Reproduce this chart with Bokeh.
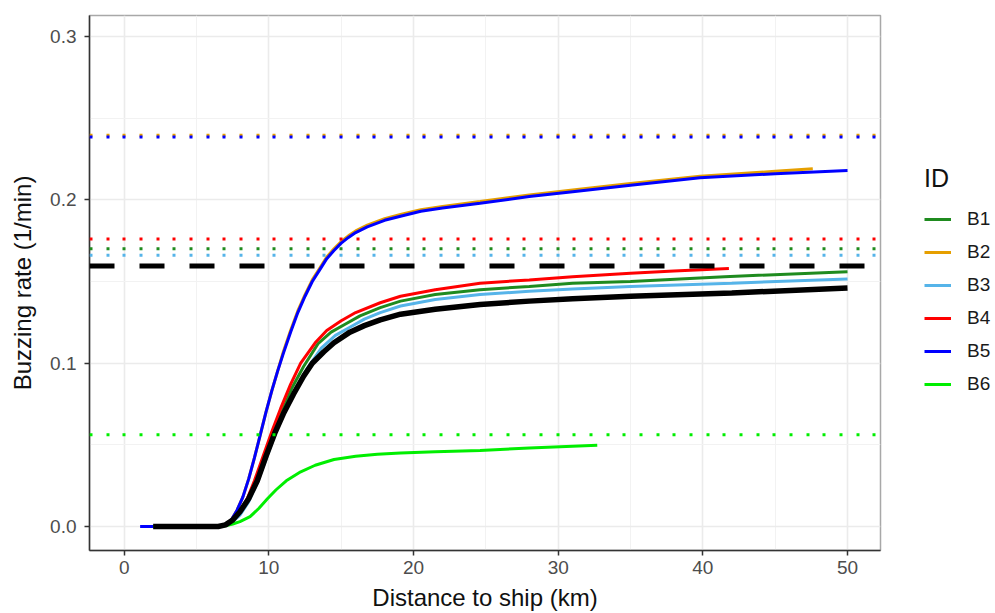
from bokeh.plotting import figure
from bokeh.layouts import row
from bokeh.models import Range1d, FixedTicker, PrintfTickFormatter, Span, Legend, LegendItem
from bokeh.embed import file_html
from bokeh.resources import INLINE

# ---------------- data ----------------
ids = ["B1", "B2", "B3", "B4", "B5", "B6"]
colors = {"B1": "#1F8B1F", "B2": "#E69F00", "B3": "#56B4E9",
          "B4": "#FF0000", "B5": "#0000FF", "B6": "#00EE00"}

b1_x = [2, 6.5, 7.0, 7.5, 8.0, 8.5, 9.1, 9.7, 10.3, 10.9, 11.6, 12.4, 13.4, 14.3, 15.3, 16.3, 17.7, 19.1, 21.5, 24.6, 28, 31, 35, 41.5, 50]
b1_y = [0, 0, 0.001, 0.003, 0.008, 0.016, 0.027, 0.042, 0.057, 0.070, 0.085, 0.098, 0.112, 0.119, 0.124, 0.129, 0.134, 0.138, 0.142, 0.145, 0.147, 0.149, 0.150, 0.153, 0.156]

b2_x = [2, 4, 6.5, 7.0, 7.4, 7.8, 8.2, 8.6, 9.0, 9.4, 9.8, 10.2, 10.6, 11.0, 11.5, 12.0, 12.5, 13.0, 13.5, 14.0, 14.5, 15.0, 15.5, 16.0, 16.8, 18.0, 19.1, 20.5, 22, 24.6, 28, 31, 35, 39.8, 45, 47.6]
b2_y = [0, 0, 0, 0.001, 0.004, 0.010, 0.018, 0.029, 0.042, 0.056, 0.070, 0.083, 0.095, 0.107, 0.120, 0.132, 0.142, 0.151, 0.158, 0.165, 0.170, 0.1745, 0.178, 0.181, 0.1845, 0.1885, 0.191, 0.194, 0.196, 0.199, 0.203, 0.206, 0.210, 0.2145, 0.2175, 0.219]

b3_x = [2, 6.5, 7.0, 7.5, 8.0, 8.6, 9.2, 9.8, 10.4, 11.0, 11.8, 12.6, 13.6, 14.6, 15.6, 16.6, 17.7, 19.1, 21.5, 24.6, 28, 31, 35, 42, 50]
b3_y = [0, 0, 0.001, 0.003, 0.007, 0.015, 0.027, 0.041, 0.056, 0.069, 0.083, 0.096, 0.109, 0.117, 0.122, 0.127, 0.131, 0.135, 0.139, 0.142, 0.144, 0.1455, 0.147, 0.149, 0.1515]

b4_x = [2, 6.5, 7.0, 7.5, 8.0, 8.5, 9.0, 9.6, 10.2, 10.8, 11.5, 12.2, 13.2, 14.0, 15.0, 16.0, 17.7, 19.1, 21.5, 24.6, 28, 31, 35, 38, 41.8]
b4_y = [0, 0, 0.001, 0.004, 0.009, 0.017, 0.028, 0.043, 0.058, 0.072, 0.087, 0.100, 0.1125, 0.120, 0.126, 0.131, 0.137, 0.141, 0.145, 0.149, 0.151, 0.153, 0.155, 0.1565, 0.158]

b5_x = [1.1, 4, 6.5, 7.0, 7.4, 7.8, 8.2, 8.6, 9.0, 9.4, 9.8, 10.2, 10.6, 11.0, 11.5, 12.0, 12.5, 13.0, 13.5, 14.0, 14.5, 15.0, 15.5, 16.0, 16.8, 18.0, 19.1, 20.5, 22, 24.6, 28, 31, 35, 39.8, 45, 50]
b5_y = [0, 0, 0, 0.001, 0.004, 0.010, 0.018, 0.029, 0.042, 0.056, 0.070, 0.083, 0.095, 0.106, 0.119, 0.131, 0.141, 0.150, 0.157, 0.164, 0.169, 0.1735, 0.177, 0.180, 0.1835, 0.1875, 0.190, 0.193, 0.195, 0.198, 0.202, 0.205, 0.209, 0.2135, 0.216, 0.218]

b6_x = [2, 6.5, 7.0, 7.5, 8.0, 8.7, 9.3, 9.9, 10.5, 11.2, 12.2, 13.2, 14.5, 16.0, 17.5, 19.1, 21.5, 24.6, 28, 32.7]
b6_y = [0, 0, 0.0005, 0.0015, 0.003, 0.006, 0.011, 0.017, 0.0225, 0.028, 0.0335, 0.0375, 0.041, 0.043, 0.0443, 0.045, 0.0457, 0.0466, 0.048, 0.0497]

pop_x = [2, 6.5, 7.0, 7.5, 8.0, 8.6, 9.2, 9.8, 10.4, 11.0, 11.7, 12.4, 13.0, 13.8, 14.5, 15.6, 16.6, 17.7, 19.1, 21.5, 24.6, 28, 31, 35, 42, 50]
pop_y = [0, 0, 0.001, 0.004, 0.009, 0.017, 0.028, 0.043, 0.057, 0.069, 0.081, 0.092, 0.100, 0.107, 0.1125, 0.119, 0.123, 0.1265, 0.130, 0.133, 0.136, 0.138, 0.1395, 0.141, 0.143, 0.146]

# asymptotic (max) rates per individual, and population value
asym = {"B1": 0.1701, "B2": 0.2395, "B3": 0.1661, "B4": 0.1760, "B5": 0.2385, "B6": 0.0562}
pop_asym = 0.1595

x_ticks = [0, 10, 20, 30, 40, 50]
x_minor = [5, 15, 25, 35, 45]
y_ticks = [0.0, 0.1, 0.2, 0.3]
y_minor = [0.05, 0.15, 0.25]

series = {"B1": (b1_x, b1_y), "B2": (b2_x, b2_y), "B3": (b3_x, b3_y),
          "B4": (b4_x, b4_y), "B5": (b5_x, b5_y), "B6": (b6_x, b6_y)}

# ---------------- main figure ----------------
FONT = "Liberation Sans"
p = figure(frame_width=791, frame_height=535, output_backend="svg", toolbar_location=None,
           x_range=Range1d(-2.40, 52.28), y_range=Range1d(-0.0147, 0.3129),
           min_border_left=89, min_border_top=15, min_border_right=2, min_border_bottom=62,
           background_fill_color="white", border_fill_color="white")

p.outline_line_color = "#A8A8A8"
p.outline_line_width = 1.5

for ax in (p.xaxis[0], p.yaxis[0]):
    ax.axis_line_color = "#333333"
    ax.axis_line_width = 1.5
    ax.major_tick_line_color = "#333333"
    ax.major_tick_line_width = 1.5
    ax.major_tick_in = 0
    ax.major_tick_out = 5
    ax.minor_tick_line_color = None
    ax.major_label_text_font = FONT
    ax.major_label_text_font_size = "19px"
    ax.major_label_text_color = "#4D4D4D"
    ax.axis_label_text_font = FONT
    ax.axis_label_text_font_size = "24px"
    ax.axis_label_text_font_style = "normal"
    ax.axis_label_text_color = "#111111"

p.xaxis.ticker = FixedTicker(ticks=x_ticks, minor_ticks=x_minor)
p.yaxis.ticker = FixedTicker(ticks=y_ticks, minor_ticks=y_minor)
p.yaxis.formatter = PrintfTickFormatter(format="%.1f")
p.xaxis.axis_label = "Distance to ship (km)"
p.yaxis.axis_label = "Buzzing rate (1/min)"
p.xaxis.major_label_standoff = 5
p.yaxis.major_label_standoff = 8
p.xaxis.axis_label_standoff = 7
p.yaxis.axis_label_standoff = 11

for g in (p.xgrid[0], p.ygrid[0]):
    g.grid_line_color = "#EBEBEB"
    g.grid_line_width = 1.6
    g.minor_grid_line_color = "#F2F2F2"
    g.minor_grid_line_width = 1.0

# curves
for k in ids:
    xs, ys = series[k]
    p.line(xs, ys, line_color=colors[k], line_width=3)
p.line(pop_x, pop_y, line_color="black", line_width=5.5)

# horizontal reference lines
for k in ["B1", "B3", "B4", "B6", "B2", "B5"]:
    p.add_layout(Span(location=asym[k], dimension="width", line_color=colors[k],
                      line_width=3, line_dash="3 14 3 13 3 14"))
p.add_layout(Span(location=pop_asym, dimension="width", line_color="black",
                  line_width=5, line_dash="25 25"))

# ---------------- legend panel (series drawn out of view, only legend shows) ----------------
lg = figure(width=113, height=612, output_backend="svg", toolbar_location=None,
            x_range=Range1d(-100, -99), y_range=Range1d(-100, -99), min_border=0,
            x_axis_location=None, y_axis_location=None,
            background_fill_color="white", border_fill_color="white")
lg.outline_line_color = None
lg.grid.visible = False
proxies = {k: lg.line(series[k][0], series[k][1], line_color=colors[k], line_width=3) for k in ids}

legend = Legend(items=[LegendItem(label=k, renderers=[proxies[k]]) for k in ids],
                title="ID", location=(42, 154))
legend.title_text_font = FONT
legend.title_text_font_size = "25px"
legend.title_text_font_style = "normal"
legend.title_text_color = "#111111"
legend.title_standoff = 15
legend.label_text_font = FONT
legend.label_text_font_size = "19px"
legend.label_text_color = "#1A1A1A"
legend.glyph_width = 27
legend.glyph_height = 20
legend.label_height = 20
legend.spacing = 11
legend.padding = 8
legend.margin = 0
legend.label_standoff = 16
legend.border_line_color = None
legend.background_fill_alpha = 0
lg.add_layout(legend)

layout = row(p, lg)
open("out.html", "w").write(file_html(layout, INLINE))
